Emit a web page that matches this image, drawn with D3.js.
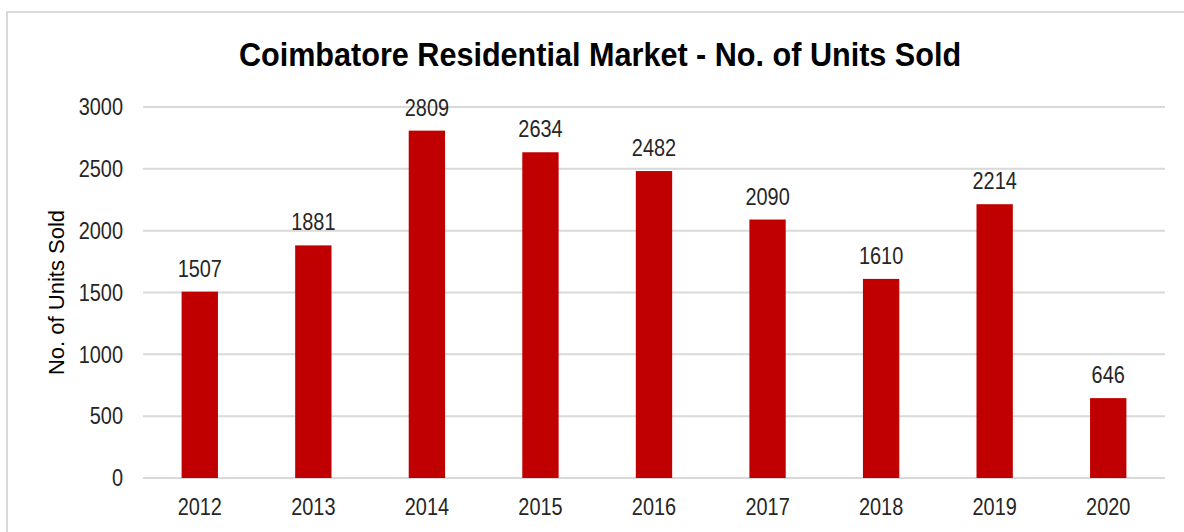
<!DOCTYPE html>
<html>
<head>
<meta charset="utf-8">
<script src="https://cdn.jsdelivr.net/npm/d3@7"></script>
<style>
  body { margin: 0; background: #fff; }
  text { font-family: "Liberation Sans", Arial, sans-serif; }
</style>
</head>
<body>
<div id="chart"></div>
<script>
var years = ['2012', '2013', '2014', '2015', '2016', '2017', '2018', '2019', '2020'];
var unitsSold = [1507, 1881, 2809, 2634, 2482, 2090, 1610, 2214, 646];
var yTicks = [0, 500, 1000, 1500, 2000, 2500, 3000];

var width = 1184, height = 532;
var margin = {top: 107, right: 19, bottom: 54, left: 143};
var narrow = 0.83; // no Arial Narrow installed, so squeeze the text

var svg = d3.select('#chart')
    .append('svg')
    .attr('width', width)
    .attr('height', height);

// chart frame
svg.append('rect')
    .attr('x', 7)
    .attr('y', 12)
    .attr('width', width + 10)
    .attr('height', height + 10)
    .attr('fill', 'none')
    .attr('stroke', '#d9d9d9')
    .attr('stroke-width', 2);

var x = d3.scaleBand()
    .domain(years)
    .range([margin.left, width - margin.right])
    .paddingInner(0.68)
    .paddingOuter(0.34);

var y = d3.scaleLinear()
    .domain([0, 3000])
    .range([height - margin.bottom, margin.top]);

// gridlines
svg.append('g')
    .selectAll('line')
    .data(yTicks)
    .enter()
    .append('line')
    .attr('x1', margin.left)
    .attr('x2', width - margin.right)
    .attr('y1', function (d) { return y(d); })
    .attr('y2', function (d) { return y(d); })
    .attr('stroke', '#d9d9d9')
    .attr('stroke-width', 2);

// y axis labels
var yAxis = svg.append('g')
    .attr('transform', 'translate(' + margin.left + ',0)')
    .call(d3.axisLeft(y).tickValues(yTicks).tickFormat(d3.format('d')).tickSize(0).tickPadding(20));
yAxis.select('.domain').remove();
yAxis.selectAll('text')
    .attr('x', -20 / narrow)
    .attr('transform', 'scale(' + narrow + ',1)')
    .attr('font-size', 24)
    .attr('fill', '#262626')
    .style('font-family', '"Liberation Sans", Arial, sans-serif');

// x axis labels
var xAxis = svg.append('g')
    .attr('transform', 'translate(0,' + (height - margin.bottom) + ')')
    .call(d3.axisBottom(x).tickSize(0).tickPadding(20));
xAxis.select('.domain').remove();
xAxis.selectAll('text')
    .attr('transform', 'scale(' + narrow + ',1)')
    .attr('font-size', 24)
    .attr('fill', '#262626')
    .style('font-family', '"Liberation Sans", Arial, sans-serif');

// bars
svg.append('g')
    .selectAll('rect')
    .data(unitsSold)
    .enter()
    .append('rect')
    .attr('x', function (d, i) { return x(years[i]); })
    .attr('y', function (d) { return y(d); })
    .attr('width', x.bandwidth())
    .attr('height', function (d) { return y(0) - y(d); })
    .attr('fill', '#c00000');

// value labels
svg.append('g')
    .selectAll('text')
    .data(unitsSold)
    .enter()
    .append('text')
    .attr('transform', function (d, i) {
        return 'translate(' + (x(years[i]) + x.bandwidth() / 2) + ',' + (y(d) - 15) + ') scale(' + narrow + ',1)';
    })
    .attr('text-anchor', 'middle')
    .attr('font-size', 24)
    .attr('fill', '#262626')
    .text(function (d) { return d; });

// title
svg.append('text')
    .attr('transform', 'translate(600,66) scale(0.9,1)')
    .attr('text-anchor', 'middle')
    .attr('font-size', 34)
    .attr('font-weight', 'bold')
    .attr('fill', '#000')
    .text('Coimbatore Residential Market - No. of Units Sold');

// y axis title
svg.append('text')
    .attr('transform', 'translate(64,' + y(1500) + ') rotate(-90)')
    .attr('text-anchor', 'middle')
    .attr('font-size', 22)
    .attr('fill', '#000')
    .text('No. of Units Sold');
</script>
</body>
</html>
